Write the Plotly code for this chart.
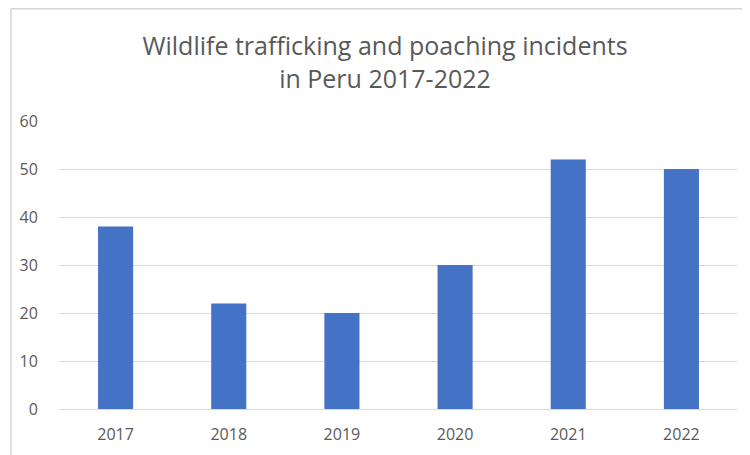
import plotly.graph_objects as go

years = ["2017", "2018", "2019", "2020", "2021", "2022"]
incidents = [38, 22, 20, 30, 52, 50]
y_ticks = [0, 10, 20, 30, 40, 50, 60]

# page has an 8px body offset; figure coordinates = screen - 8
W, H = 750, 455
L, T = 49, 113
pw, ph = 681, 288
R, B = W - L - pw, H - T - ph

def px(x):
    return (x - L) / pw

def py(y):
    return (T + ph - y) / ph

fig = go.Figure(go.Bar(x=years, y=incidents, marker=dict(color="#4472C4", line=dict(width=0))))

fig.update_layout(
    width=W, height=H,
    margin=dict(l=L, r=R, t=T, b=B),
    paper_bgcolor="white", plot_bgcolor="white",
    bargap=0.69,
    showlegend=False,
    font=dict(family="Open Sans", color="#595959"),
    title=dict(
        text="Wildlife trafficking and poaching incidents<br>in Peru 2017-2022",
        x=377 / W, xanchor="center", xref="container",
        y=1 - 47 / H, yanchor="middle", yref="container",
        font=dict(size=25, color="#595959", family="Open Sans"),
    ),
    xaxis=dict(
        showgrid=False, showline=False, zeroline=False,
        ticks="outside", ticklen=11, tickcolor="rgba(0,0,0,0)",
        tickfont=dict(size=16, color="#595959"),
    ),
    yaxis=dict(
        range=[0, 60], tickvals=y_ticks,
        showgrid=True, gridcolor="#D9D9D9", gridwidth=1,
        zeroline=True, zerolinecolor="#D9D9D9", zerolinewidth=1,
        showline=False,
        ticks="outside", ticklen=17, tickcolor="rgba(0,0,0,0)",
        tickfont=dict(size=16, color="#595959"),
    ),
    shapes=[
        dict(type="line", xref="paper", yref="paper", x0=px(0.8), x1=px(0.8), y0=py(H), y1=py(0.8),
             line=dict(color="#D6D6D6", width=1.5)),
        dict(type="line", xref="paper", yref="paper", x0=px(0.8), x1=px(W), y0=py(0.8), y1=py(0.8),
             line=dict(color="#D6D6D6", width=1.5)),
    ],
)

fig.write_html("out.html")
